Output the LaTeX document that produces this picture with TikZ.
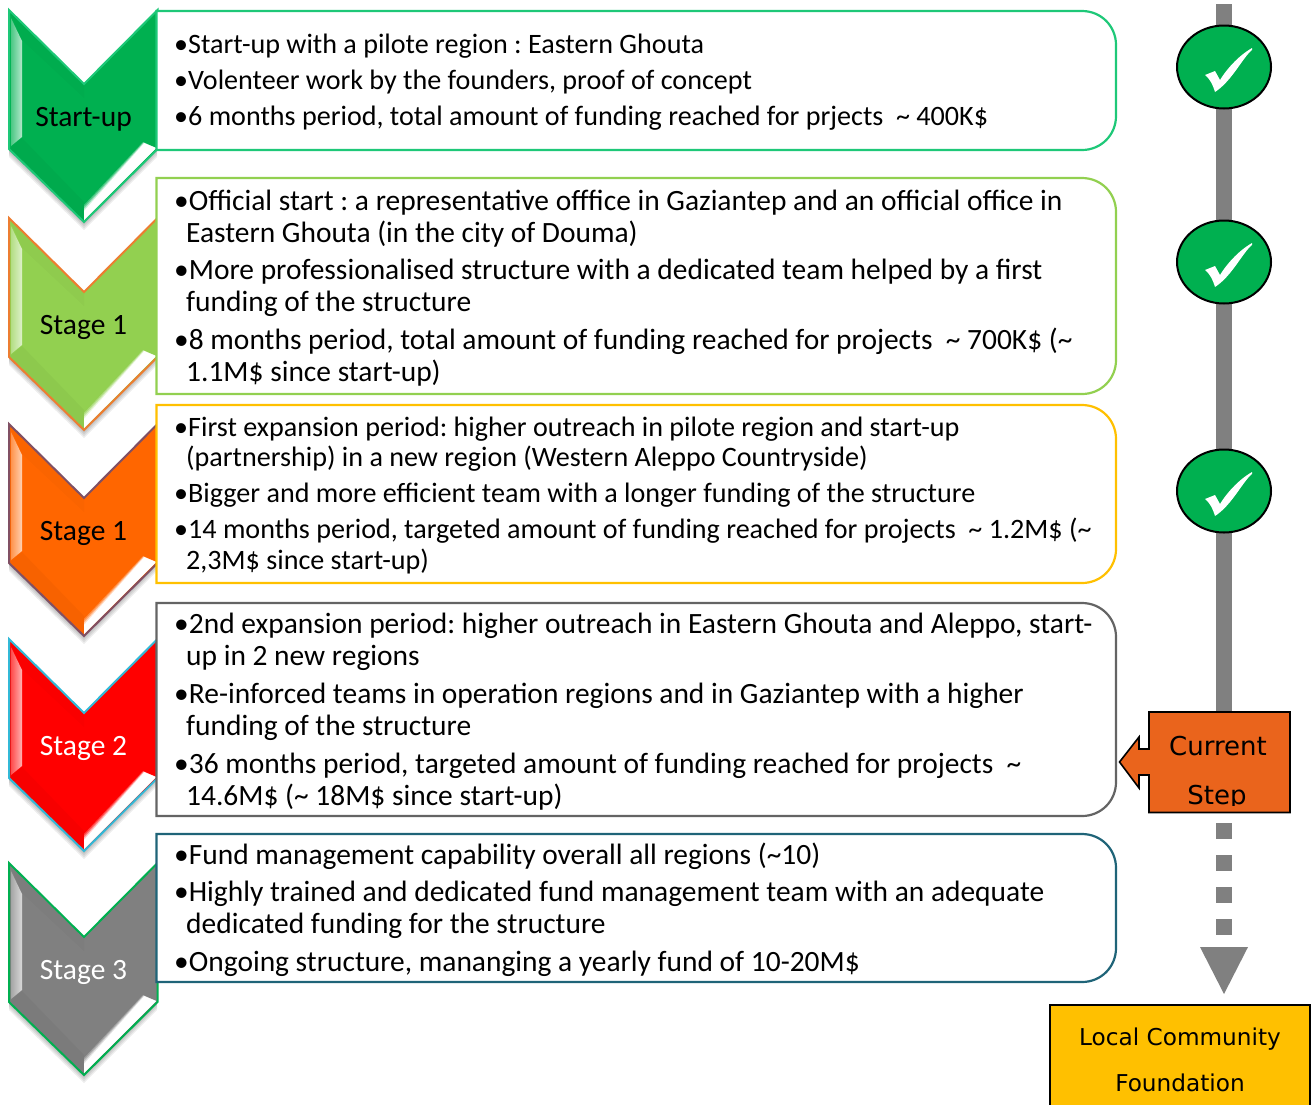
\documentclass[tikz,border=0pt]{standalone}
\usepackage{fontspec}
\setmainfont{Carlito}
\newfontfamily\dv{DejaVu Sans}
\usetikzlibrary{shapes.geometric}
\definecolor{cGreen}{RGB}{0,176,80}
\definecolor{cLime}{RGB}{146,208,80}
\definecolor{cOrange}{RGB}{255,102,0}
\definecolor{cRed}{RGB}{255,0,0}
\definecolor{cGrey}{RGB}{128,128,128}
\definecolor{eOrange}{RGB}{237,125,49}
\definecolor{ePlum}{RGB}{128,80,100}
\definecolor{eCyan}{RGB}{50,185,215}
\definecolor{pMint}{RGB}{30,200,120}
\definecolor{pTeal}{RGB}{31,100,120}
\definecolor{pGold}{RGB}{255,192,0}
\definecolor{pGrey}{RGB}{100,100,100}
\definecolor{stepOrange}{RGB}{234,100,28}
\tikzset{
  x=1pt,y=-1pt,
  linetext/.style={anchor=base west,inner sep=0pt,font=\fontsize{29.45}{29.45}\selectfont\frenchspacing},
  linetextsmall/.style={anchor=base west,inner sep=0pt,font=\fontsize{28.1}{28.1}\selectfont\frenchspacing},
  chevtext/.style={anchor=base,inner sep=0pt,font=\fontsize{29.5}{29.5}\selectfont},
  panelbox/.style={line width=2.2pt,fill=white},
  tickdot/.style={ellipse,draw=black,line width=2pt,fill=cGreen,minimum width=94pt,minimum height=83pt,inner sep=0pt},
  spine/.style={cGrey,line width=16pt},
  stepdash/.style={fill=cGrey,minimum width=16pt,minimum height=16pt,inner sep=0pt},
  steptext/.style={anchor=base,inner sep=0pt,font=\dv\fontsize{26}{26}\selectfont},
  lcftext/.style={anchor=center,inner sep=0pt,font=\dv\fontsize{23.2}{23.2}\selectfont},
}
\newcommand{\tld}{\char126{}}
% chevron: #1 name, #2 top y, #3 fill, #4 edge, #5 text colour, #6 text
\newcommand{\chevron}[6]{%
  \begin{scope}[shift={(0,#2)}]
    \foreach \s in {8,6,4,2}{
      \fill[black,opacity=.07] (9,139+\s) -- (84,212+\s) -- (157,139+\s) -- (157,130) -- (9,130) -- cycle;
    }
    \fill[#3] (9,0) -- (84,74) -- (157,0) -- (157,139) -- (84,212) -- (9,139) -- cycle;
    % soft bevels
    \fill[black,opacity=.03] (9,139) -- (22,128) -- (84,192) -- (84,212) -- cycle;
    \fill[black,opacity=.02] (9,0) -- (84,74) -- (84,88) -- (22,30) -- cycle;
    % left highlight
    \shade[left color=white!30!#3,right color=white!70!#3] (11,8) -- (22,31) -- (22,127) -- (11,136) -- cycle;
    % lower right highlight
    \foreach \t/\m in {0/25,0.2/50,0.4/80,0.6/100}{
      \fill[white!\m!#3] (156,138) -- ({143+2*\t},{132+2*\t}) -- (84,{195+10*\t}) -- (84,210) -- cycle;
    }
    \draw[#4,line width=2pt,line join=miter] (9,0) -- (84,74) -- (157.5,0) -- (157.5,139) -- (84,212) -- (9,139) -- cycle;
    \node[chevtext,text=#5] (#1) at (83.5,116) {#6};
  \end{scope}}
% panel: #1 name, #2 top, #3 bottom, #4 colour
\newcommand{\panel}[4]{%
  \draw[panelbox,draw=#4] (156.5,#2) -- (1082,#2) .. controls (1101,#2) and (1116,#2+15) .. (1116,#2+34)
    -- (1116,#3-34) .. controls (1116,#3-15) and (1101,#3) .. (1082,#3) -- (156.5,#3) -- cycle;
  \coordinate (#1) at (156.5,#2);}
\newcommand{\ptext}[4]{\node[linetext] (#1) at (#2,#3) {#4};}
\newcommand{\stext}[4]{\node[linetextsmall] (#1) at (#2,#3) {#4};}
\begin{document}
\begin{tikzpicture}
\useasboundingbox (0,0) rectangle (1312,1104);
\fill[white] (0,0) rectangle (1312,1104);

% spine
\coordinate (spineTop) at (1224,4);
\coordinate (spineEnd) at (1224,711);
\draw[spine] (spineTop) -- (spineEnd);
\foreach \i/\y in {a/831,b/863,c/895,d/927}{
  \node[stepdash] (dash\i) at (1224,\y) {};
}
\fill[cGrey] (1200,947) -- (1248,947) -- (1224,994) -- cycle;

% chevrons
\chevron{ca}{10}{cGreen}{pMint}{black}{Start-up}
\chevron{cb}{218}{cLime}{eOrange}{black}{Stage 1}
\chevron{cc}{424}{cOrange}{ePlum}{black}{Stage 1}
\chevron{cd}{639}{cRed}{eCyan}{white}{Stage 2}
\chevron{ce}{863}{cGrey}{cGreen}{white}{Stage 3}

% panels
\panel{pa}{11}{150}{pMint}
\panel{pb}{178}{394}{cLime}
\panel{pc}{405}{583}{pGold}
\panel{pd}{603}{816}{pGrey}
\panel{pe}{834}{982}{pTeal}

% panel text
\stext{a1}{174}{53}{•Start-up with a pilote region : Eastern Ghouta}
\stext{a2}{174}{89}{•Volenteer work by the founders, proof of concept}
\stext{a3}{174}{125}{•6 months period, total amount of funding reached for prjects\ \ \tld\ 400K\$}

\ptext{b1}{174}{210}{•Official start : a representative offfice in Gaziantep and an official office in}
\ptext{b2}{186}{242}{Eastern Ghouta (in the city of Douma)}
\ptext{b3}{174}{279}{•More professionalised structure with a dedicated team helped by a first}
\ptext{b4}{186}{311}{funding of the structure}
\ptext{b5}{174}{349}{•8 months period, total amount of funding reached for projects\ \ \tld\ 700K\$ (\tld}
\ptext{b6}{186}{381}{1.1M\$ since start-up)}

\stext{c1}{174}{436}{•First expansion period: higher outreach in pilote region and start-up}
\stext{c2}{186}{466}{(partnership) in a new region (Western Aleppo Countryside)}
\stext{c3}{174}{502}{•Bigger and more efficient team with a longer funding of the structure}
\stext{c4}{174}{538}{•14 months period, targeted amount of funding reached for projects\ \ \tld\ 1.2M\$ (\tld}
\stext{c5}{186}{569}{2,3M\$ since start-up)}

\ptext{d1}{174}{633}{•2nd expansion period: higher outreach in Eastern Ghouta and Aleppo, start-}
\ptext{d2}{186}{665}{up in 2 new regions}
\ptext{d3}{174}{703}{•Re-inforced teams in operation regions and in Gaziantep with a higher}
\ptext{d4}{186}{735}{funding of the structure}
\ptext{d5}{174}{773}{•36 months period, targeted amount of funding reached for projects\ \ \tld}
\ptext{d6}{186}{805}{14.6M\$ (\tld\ 18M\$ since start-up)}

\ptext{e1}{174}{864}{•Fund management capability overall all regions (\tld 10)}
\ptext{e2}{174}{901}{•Highly trained and dedicated fund management team with an adequate}
\ptext{e3}{186}{933}{dedicated funding for the structure}
\ptext{e4}{174}{971}{•Ongoing structure, mananging a yearly fund of 10-20M\$}

% ticks
\foreach \n/\y in {ta/67,tb/262,tc/491}{
  \node[tickdot] (\n) at (1224,\y) {};
  \fill[white] (1205,\y+8) -- (1215,\y+4) -- (1220,\y+13) .. controls (1226,\y+3) and (1238,\y-11) .. (1252,\y-19) -- (1252,\y-17) .. controls (1243,\y-10) and (1232,\y+14) .. (1215,\y+25) .. controls (1213,\y+18) and (1210,\y+12) .. (1205,\y+8) -- cycle;
}

% current step callout
\draw[black,line width=1.6pt,fill=stepOrange,line join=miter]
  (1149,712) -- (1290,712) -- (1290,812.5) -- (1149,812.5) -- (1149,775) -- (1139,775) -- (1139,788) -- (1119.5,762) -- (1139,737) -- (1139,749) -- (1149,749) -- cycle;
\node[steptext] (cur1) at (1218,755) {Current};
\begin{scope}
  \clip (1150,713) rectangle (1289,805);
  \node[steptext] (cur2) at (1217,804) {Step};
\end{scope}

% Local Community Foundation
\draw[black,line width=1.6pt,fill=pGold] (1050,1106) -- (1050,1005) -- (1310,1005) -- (1310,1106);
\node[lcftext] (lc1) at (1180,1039) {Local Community};
\node[lcftext] (lc2) at (1180,1083) {Foundation};
\end{tikzpicture}
\end{document}
